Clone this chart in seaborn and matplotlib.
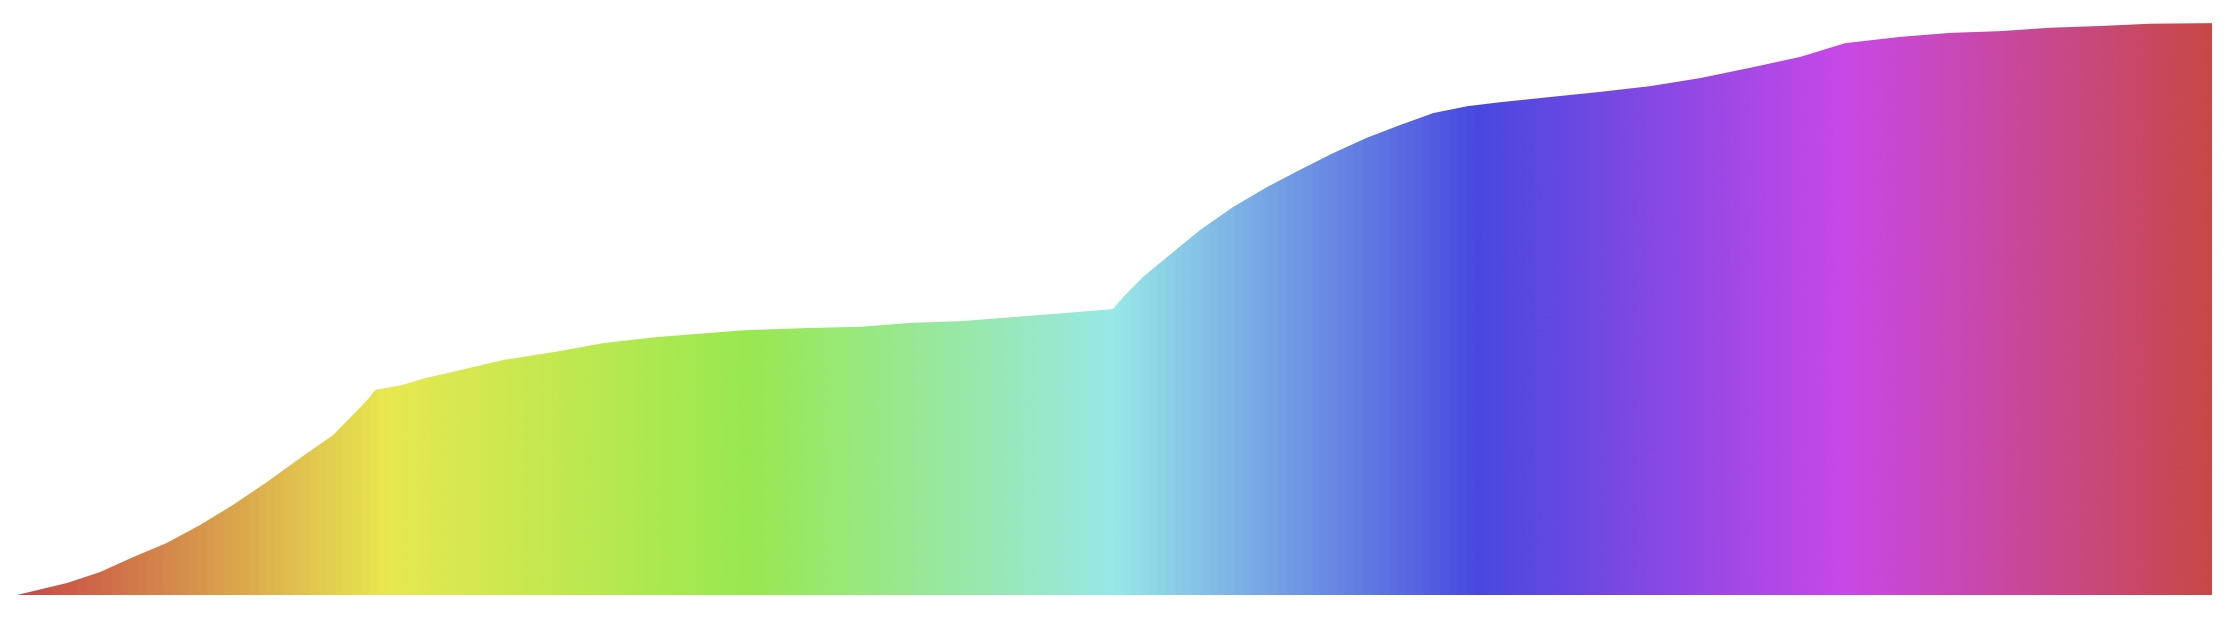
import numpy as np
import pandas as pd
import matplotlib
matplotlib.use("Agg")
import matplotlib.pyplot as plt
from matplotlib.colors import LinearSegmentedColormap
import seaborn as sns

# curve (x in segments 0..6, y in percent of the top)
x_vals = [0.000, 0.137, 0.227, 0.317, 0.410, 0.500, 0.590, 0.683, 0.774, 0.864,
          0.910, 0.957, 0.980, 1.050, 1.119, 1.189, 1.328, 1.468, 1.607, 1.747,
          1.886, 1.985, 2.165, 2.304, 2.444, 2.583, 2.723, 2.862, 2.996, 3.024,
          3.078, 3.144, 3.234, 3.324, 3.417, 3.507, 3.597, 3.690, 3.780, 3.871,
          3.964, 4.054, 4.190, 4.327, 4.464, 4.600, 4.737, 4.874, 4.997, 5.147,
          5.284, 5.420, 5.557, 5.694, 5.831, 6.000]
y_vals = [0.0, 2.1, 4.0, 6.6, 9.1, 12.2, 15.7, 19.7, 23.9, 27.9,
          30.9, 34.0, 35.8, 36.6, 37.9, 38.9, 41.0, 42.4, 44.0, 45.0,
          45.7, 46.2, 46.6, 46.8, 47.5, 47.8, 48.5, 49.2, 49.9, 52.0,
          55.5, 59.0, 63.7, 67.7, 71.2, 74.2, 77.1, 79.8, 82.0, 84.1,
          85.3, 86.0, 86.9, 87.8, 88.8, 90.2, 92.0, 93.9, 96.3, 97.4,
          98.1, 98.4, 99.0, 99.3, 99.7, 99.8]

# colour stops of the horizontal gradient
stop_pos = [0, 1, 2, 3, 4, 5, 6]
stop_colors = ["#c84848", "#e8e850", "#98e850", "#98e8e8",
               "#4848e0", "#c848e8", "#c84848"]

df = pd.DataFrame({"x": x_vals, "y": y_vals})

sns.set_style("white")
fig = plt.figure(figsize=(22.3, 6.17), dpi=100)
ax = fig.add_axes([17 / 2230, 22 / 617, 2195 / 2230, 573 / 617])

cmap = LinearSegmentedColormap.from_list(
    "band", [(p / 6, c) for p, c in zip(stop_pos, stop_colors)])

sns.lineplot(data=df, x="x", y="y", ax=ax, color="#7060c0", linewidth=0,
             estimator=None, sort=False)
fill = ax.fill_between(df["x"], 0, df["y"], facecolor="none", edgecolor="none")

grad = np.linspace(0, 1, 1200).reshape(1, -1)
img = ax.imshow(grad, cmap=cmap, aspect="auto", extent=[0, 6, 0, 100],
                origin="lower", interpolation="bilinear")
img.set_clip_path(fill.get_paths()[0], transform=ax.transData)

ax.set_xlim(0, 6)
ax.set_ylim(0, 100)
ax.set_axis_off()

fig.savefig("out.png", dpi=100)
